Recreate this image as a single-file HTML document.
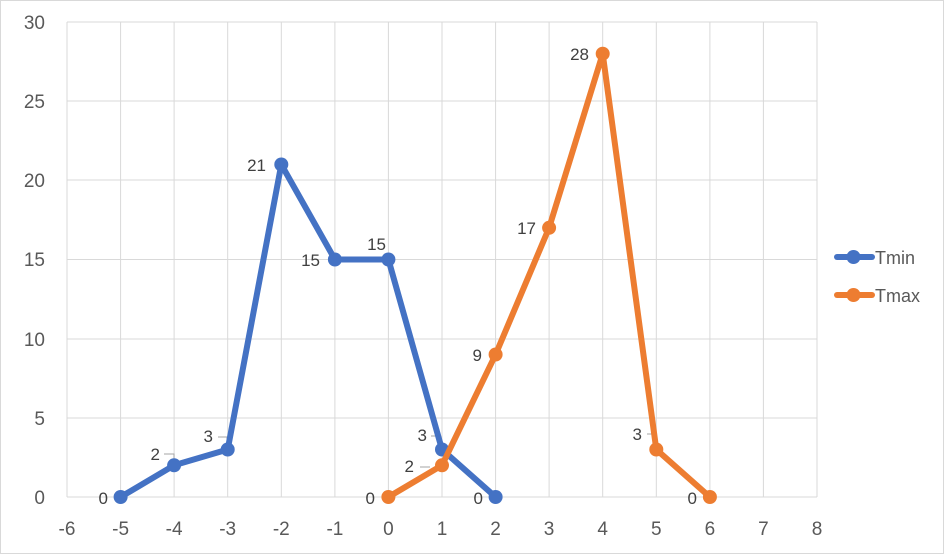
<!DOCTYPE html>
<html><head><style>body{margin:0;background:#fff}svg{display:block}</style></head><body>
<svg width="944" height="554" xmlns="http://www.w3.org/2000/svg" font-family="Liberation Sans, sans-serif">
<rect x="0.5" y="0.5" width="943" height="553" fill="#fff" stroke="#d9d9d9"/>
<g stroke="#d9d9d9" stroke-width="1">
<line x1="67" y1="22" x2="817" y2="22"/><line x1="67" y1="101" x2="817" y2="101"/><line x1="67" y1="180" x2="817" y2="180"/><line x1="67" y1="259.5" x2="817" y2="259.5"/><line x1="67" y1="339" x2="817" y2="339"/><line x1="67" y1="418" x2="817" y2="418"/>
<line x1="67" y1="22" x2="67" y2="497"/><line x1="120.6" y1="22" x2="120.6" y2="497"/><line x1="174.1" y1="22" x2="174.1" y2="497"/><line x1="227.7" y1="22" x2="227.7" y2="497"/><line x1="281.3" y1="22" x2="281.3" y2="497"/><line x1="334.9" y1="22" x2="334.9" y2="497"/><line x1="388.4" y1="22" x2="388.4" y2="497"/><line x1="442" y1="22" x2="442" y2="497"/><line x1="495.6" y1="22" x2="495.6" y2="497"/><line x1="549.1" y1="22" x2="549.1" y2="497"/><line x1="602.7" y1="22" x2="602.7" y2="497"/><line x1="656.3" y1="22" x2="656.3" y2="497"/><line x1="709.9" y1="22" x2="709.9" y2="497"/><line x1="763.4" y1="22" x2="763.4" y2="497"/><line x1="817" y1="22" x2="817" y2="497"/>
<line x1="67" y1="497" x2="817" y2="497"/>
</g>
<g fill="#595959" font-size="19" text-anchor="end">
<text x="45" y="29">30</text><text x="45" y="108">25</text><text x="45" y="187">20</text><text x="45" y="266">15</text><text x="45" y="346">10</text><text x="45" y="425">5</text><text x="45" y="504">0</text>
</g>
<g fill="#595959" font-size="19" text-anchor="middle">
<text x="67" y="535">-6</text><text x="120.6" y="535">-5</text><text x="174.1" y="535">-4</text><text x="227.7" y="535">-3</text><text x="281.3" y="535">-2</text><text x="334.9" y="535">-1</text><text x="388.4" y="535">0</text><text x="442" y="535">1</text><text x="495.6" y="535">2</text><text x="549.1" y="535">3</text><text x="602.7" y="535">4</text><text x="656.3" y="535">5</text><text x="709.9" y="535">6</text><text x="763.4" y="535">7</text><text x="817" y="535">8</text>
</g>
<g stroke="#a6a6a6" stroke-width="1" fill="none">
<polyline points="164,454 174,454 174,462"/><polyline points="218,437 227,437 227,446"/><polyline points="431,436 440,436 440,446"/><polyline points="647,434 654,434 654,446"/><polyline points="420,467 430,467"/>
</g>
<polyline points="120.6,497 174.1,465.3 227.7,449.5 281.3,164.5 334.9,259.5 388.4,259.5 442,449.5 495.6,497" fill="none" stroke="#4472c4" stroke-width="6" stroke-linejoin="round"/>
<g fill="#4472c4"><circle cx="120.6" cy="497" r="7"/><circle cx="174.1" cy="465.3" r="7"/><circle cx="227.7" cy="449.5" r="7"/><circle cx="281.3" cy="164.5" r="7"/><circle cx="334.9" cy="259.5" r="7"/><circle cx="388.4" cy="259.5" r="7"/><circle cx="442" cy="449.5" r="7"/><circle cx="495.6" cy="497" r="7"/></g>
<polyline points="388.4,497 442,465.3 495.6,354.5 549.1,227.8 602.7,53.7 656.3,449.5 709.9,497" fill="none" stroke="#ed7d31" stroke-width="6" stroke-linejoin="round"/>
<g fill="#ed7d31"><circle cx="388.4" cy="497" r="7"/><circle cx="442" cy="465.3" r="7"/><circle cx="495.6" cy="354.5" r="7"/><circle cx="549.1" cy="227.8" r="7"/><circle cx="602.7" cy="53.7" r="7"/><circle cx="656.3" cy="449.5" r="7"/><circle cx="709.9" cy="497" r="7"/></g>
<g fill="#404040" font-size="17" text-anchor="end">
<text x="108" y="504">0</text><text x="160" y="460">2</text><text x="213" y="442">3</text><text x="266" y="171">21</text><text x="320" y="266">15</text><text x="386" y="250">15</text><text x="427" y="441">3</text><text x="483" y="504">0</text>
<text x="375" y="504">0</text><text x="414" y="472">2</text><text x="482" y="361">9</text><text x="536" y="234">17</text><text x="589" y="60">28</text><text x="642" y="440">3</text><text x="697" y="504">0</text>
</g>
<line x1="837" y1="257" x2="872" y2="257" stroke="#4472c4" stroke-width="6" stroke-linecap="round"/><circle cx="853.5" cy="257" r="7" fill="#4472c4"/>
<line x1="837" y1="295" x2="872" y2="295" stroke="#ed7d31" stroke-width="6" stroke-linecap="round"/><circle cx="853.5" cy="295" r="7" fill="#ed7d31"/>
<text x="875" y="264" font-size="18" fill="#595959">Tmin</text>
<text x="875" y="302" font-size="18" fill="#595959">Tmax</text>
</svg>
</body></html>
